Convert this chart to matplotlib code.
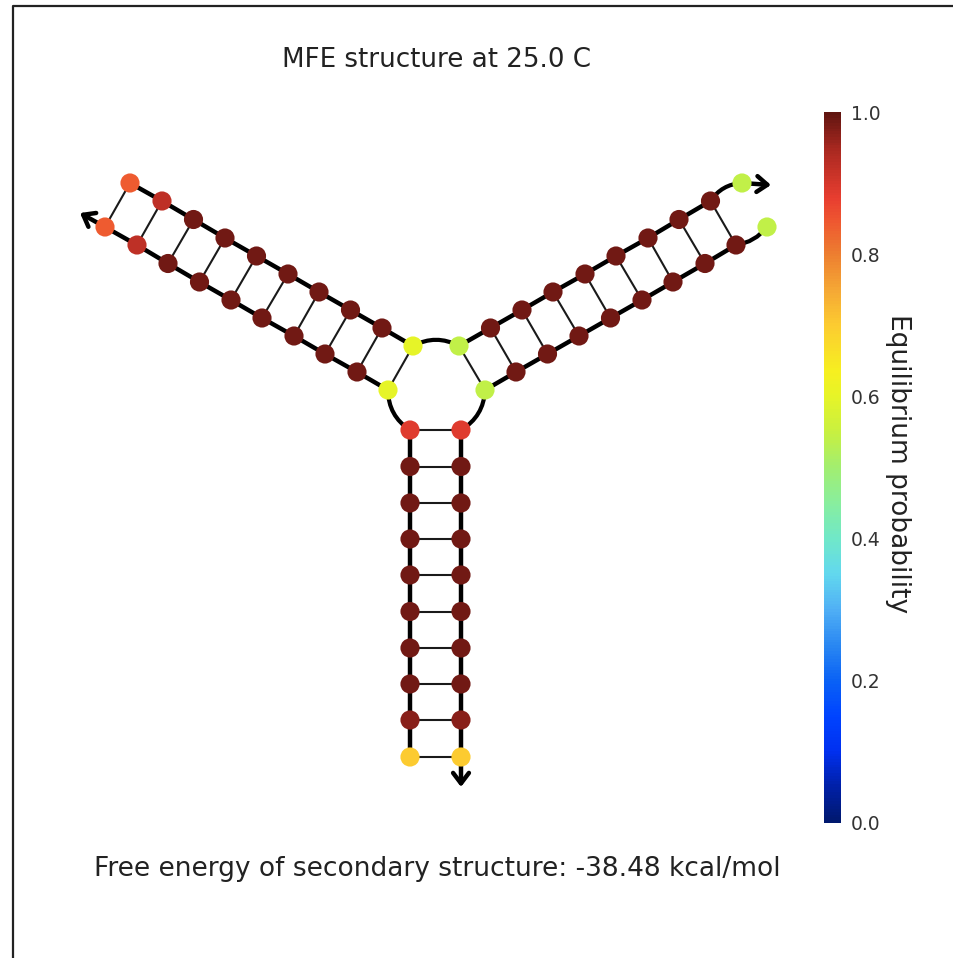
import numpy as np
import matplotlib
matplotlib.use("Agg")
import matplotlib.pyplot as plt
from matplotlib.cm import ScalarMappable
from matplotlib.colors import LinearSegmentedColormap, Normalize
from matplotlib.patches import FancyArrowPatch

# node positions (image pixels), one list per helix side
stemLeftX = [410, 410, 410, 410, 410, 410, 410, 410, 410, 410]
stemRightX = [461, 461, 461, 461, 461, 461, 461, 461, 461, 461]
stemY = [430, 466.5, 503, 539, 575, 611.5, 648, 684, 720, 757]
stemProb = [0.89, 0.985, 0.985, 0.985, 0.985, 0.985, 0.985, 0.985, 0.97, 0.70]

leftUpperX = [413, 382, 350.5, 319, 288, 256.5, 225, 193.5, 162, 130]
leftUpperY = [346, 328, 310, 292, 274, 256, 238, 219.5, 201, 183]
leftLowerX = [388, 357, 325, 294, 262, 231, 199.5, 168, 137, 105]
leftLowerY = [390, 372, 354, 336, 318, 300, 282, 263.5, 245, 227]
leftProb = [0.60, 0.985, 0.985, 0.985, 0.985, 0.985, 0.985, 0.985, 0.925, 0.84]

rightUpperX = [459, 490.5, 522, 553, 585, 616, 648, 679, 710.5, 742]
rightUpperY = [346, 328, 310, 292, 274, 256, 238, 219.5, 201, 183]
rightLowerX = [485, 516, 547.5, 579, 610.5, 642, 673, 705, 736, 767]
rightLowerY = [390, 372, 354, 336, 318, 300, 282, 263.5, 245, 227]
rightProb = [0.54, 0.985, 0.985, 0.985, 0.985, 0.985, 0.985, 0.985, 0.985, 0.54]

cbarTicks = [0.0, 0.2, 0.4, 0.6, 0.8, 1.0]
cmapStops = [(0.0, "#00186e"), (0.05, "#0020a8"), (0.1, "#0030f0"), (0.15, "#0044ff"),
             (0.2, "#0a62f5"), (0.25, "#2a88f2"), (0.3, "#50b0f5"), (0.35, "#62d8ee"),
             (0.4, "#70e8c8"), (0.45, "#88ee9e"), (0.5, "#a2ee70"), (0.55, "#c8f040"),
             (0.6, "#e6f428"), (0.635, "#f6f020"), (0.7, "#fccc30"), (0.75, "#f5a835"),
             (0.8, "#ed7f30"), (0.85, "#ee5530"), (0.88, "#e83e30"), (0.95, "#a82820"),
             (1.0, "#601510")]

W, H = 954, 958
cmap = LinearSegmentedColormap.from_list("prob", cmapStops)
norm = Normalize(0, 1)

def drawBackbone(ax, xs, ys):
    ax.plot(xs, ys, color="black", lw=3.2, solid_capstyle="round", zorder=2)

def drawCurve(ax, p0, p1, rad):
    ax.add_patch(FancyArrowPatch(p0, p1, connectionstyle=f"arc3,rad={rad}", arrowstyle="-",
                                 color="black", lw=3.0, shrinkA=0, shrinkB=0, zorder=2))

def drawArrow(ax, p0, p1):
    ax.add_patch(FancyArrowPatch(p0, p1, arrowstyle="->,head_length=0.5,head_width=0.38",
                                 mutation_scale=15, color="black", lw=3.2,
                                 shrinkA=0, shrinkB=0, zorder=2))

def drawPairs(ax, x0, y0, x1, y1):
    for a, b, c, d in zip(x0, y0, x1, y1):
        ax.plot([a, c], [b, d], color="#1a1a1a", lw=1.5, zorder=1)

def drawNodes(ax, xs, ys, probs):
    ax.scatter(xs, ys, c=probs, cmap=cmap, norm=norm, s=190, linewidths=0, zorder=3)

fig = plt.figure(figsize=(W / 100, H / 100), dpi=100)

# frame around the picture: only top and left show up
ax = fig.add_axes([0, 0, 1, 1])
ax.set_xlim(0, W)
ax.set_ylim(H, 0)
ax.axis("off")
ax.plot([13, 13, W], [H, 6, 6], color="#222222", lw=1.6, zorder=0)

drawPairs(ax, stemLeftX, stemY, stemRightX, stemY)
drawPairs(ax, leftUpperX, leftUpperY, leftLowerX, leftLowerY)
# outermost right nodes are unpaired
drawPairs(ax, rightUpperX[:-1], rightUpperY[:-1], rightLowerX[:-1], rightLowerY[:-1])

drawBackbone(ax, stemLeftX, stemY)
drawBackbone(ax, stemRightX, stemY)
drawBackbone(ax, leftUpperX, leftUpperY)
drawBackbone(ax, leftLowerX, leftLowerY)
drawBackbone(ax, rightUpperX[:-1], rightUpperY[:-1])
drawBackbone(ax, rightLowerX[:-1], rightLowerY[:-1])

# loop and the two dangling ends
drawCurve(ax, (leftUpperX[0], leftUpperY[0]), (rightUpperX[0], rightUpperY[0]), -0.27)
drawCurve(ax, (leftLowerX[0], leftLowerY[0]), (stemLeftX[0], stemY[0]), 0.27)
drawCurve(ax, (stemRightX[0], stemY[0]), (rightLowerX[0], rightLowerY[0]), 0.27)
drawCurve(ax, (rightUpperX[-2], rightUpperY[-2]), (rightUpperX[-1], rightUpperY[-1]), -0.25)
drawCurve(ax, (rightLowerX[-2], rightLowerY[-2]), (rightLowerX[-1], rightLowerY[-1]), 0.2)

drawArrow(ax, (leftLowerX[-1], leftLowerY[-1]), (80, 213))
drawArrow(ax, (rightUpperX[-1], rightUpperY[-1]), (771, 185))
drawArrow(ax, (stemRightX[-1], stemY[-1]), (461, 787))

drawNodes(ax, stemLeftX, stemY, stemProb)
drawNodes(ax, stemRightX, stemY, stemProb)
drawNodes(ax, leftUpperX, leftUpperY, leftProb)
drawNodes(ax, leftLowerX, leftLowerY, leftProb)
drawNodes(ax, rightUpperX, rightUpperY, rightProb)
drawNodes(ax, rightLowerX, rightLowerY, rightProb)

ax.text(437, 60, "MFE structure at 25.0 C", ha="center", va="center", fontsize=18.8, color="#222222")
ax.text(437.5, 869, "Free energy of secondary structure: -38.48 kcal/mol", ha="center", va="center",
        fontsize=19, color="#222222")

cax = fig.add_axes([824 / W, 1 - 823 / H, 17 / W, 711 / H])
cbar = fig.colorbar(ScalarMappable(norm=norm, cmap=cmap), cax=cax)
cbar.set_ticks(cbarTicks)
cbar.ax.tick_params(length=0, labelsize=13.5, pad=7, labelcolor="#333333")
cbar.outline.set_visible(False)
cbar.set_label("Equilibrium probability", rotation=270, fontsize=19, color="#222222", va="center")
cbar.ax.yaxis.set_label_coords(4.35, 0.506)

fig.savefig("out.png", dpi=100)
